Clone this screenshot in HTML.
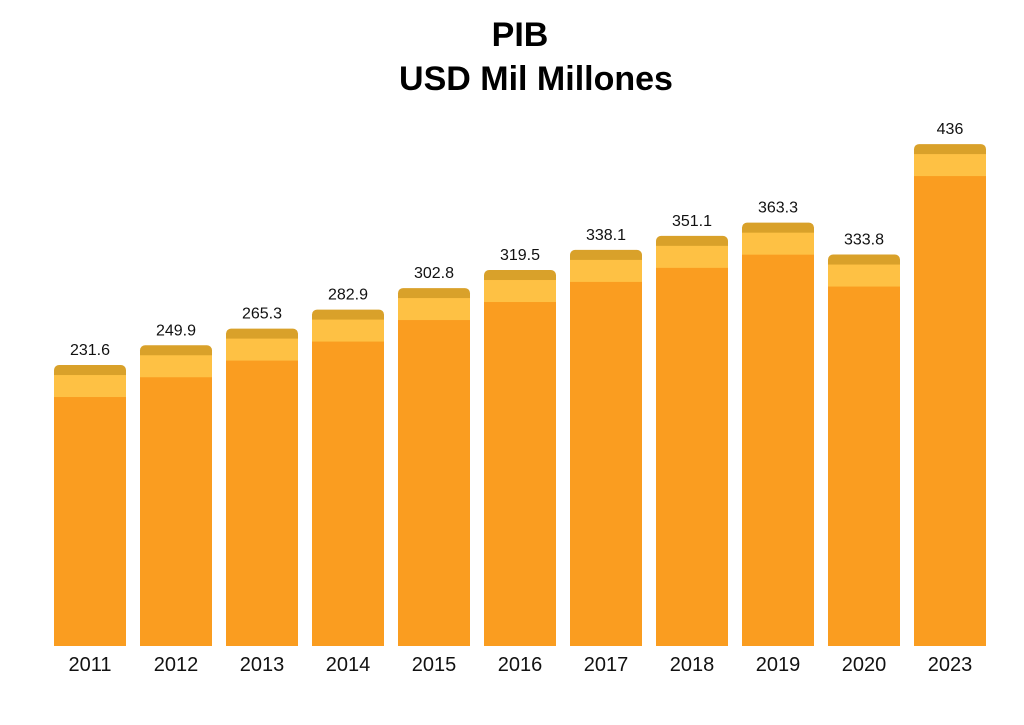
<!DOCTYPE html>
<html><head><meta charset="utf-8"><style>
body{margin:0;background:#fff;width:1024px;height:720px;overflow:hidden;font-family:"Liberation Sans",sans-serif}
</style></head><body>
<svg id="chart" width="1024" height="720" xmlns="http://www.w3.org/2000/svg">
<text x="520" y="46" text-anchor="middle" font-size="34" font-weight="bold" fill="#000">PIB</text>
<text x="536" y="90" text-anchor="middle" font-size="34" font-weight="bold" fill="#000">USD Mil Millones</text>
<g id="bars"></g>
</svg>
<script>
const categories=["2011","2012","2013","2014","2015","2016","2017","2018","2019","2020","2023"];
const values=[231.6,249.9,265.3,282.9,302.8,319.5,338.1,351.1,363.3,333.8,436];
const valueLabels=["231.6","249.9","265.3","282.9","302.8","319.5","338.1","351.1","363.3","333.8","436"];
const baseY=646, slope=1.081, offset=30.6;
function yScale(v){return baseY-(offset+v*slope);}
function xScale(i){return 54+i*86;}
const ns="http://www.w3.org/2000/svg";
const g=document.getElementById('bars');
function mk(t,a){const e=document.createElementNS(ns,t);for(const k in a)e.setAttribute(k,a[k]);return e;}
values.forEach((v,i)=>{
  const x=xScale(i),w=72,top=yScale(v);
  const grp=mk('g',{});
  
  
  const cap=mk('rect',{x:x,y:top,width:w,height:baseY-top,rx:5,fill:'#D9A12A'});
  const light=mk('rect',{x:x,y:top+10,width:w,height:baseY-top-10,fill:'#FEC144'});
  const main=mk('rect',{x:x,y:top+32,width:w,height:baseY-top-32,fill:'#FA9D20'});
  grp.appendChild(cap);grp.appendChild(light);grp.appendChild(main);
  const lbl=mk('text',{x:x+w/2,y:top-10,'text-anchor':'middle','font-size':'16',fill:'#111'});
  
  
  lbl.textContent=valueLabels[i];
  const xl=mk('text',{x:x+w/2,y:671,'text-anchor':'middle','font-size':'20',fill:'#111'});
  
  
  xl.textContent=categories[i];
  g.appendChild(grp);g.appendChild(lbl);g.appendChild(xl);
});
</script>
</body></html>
